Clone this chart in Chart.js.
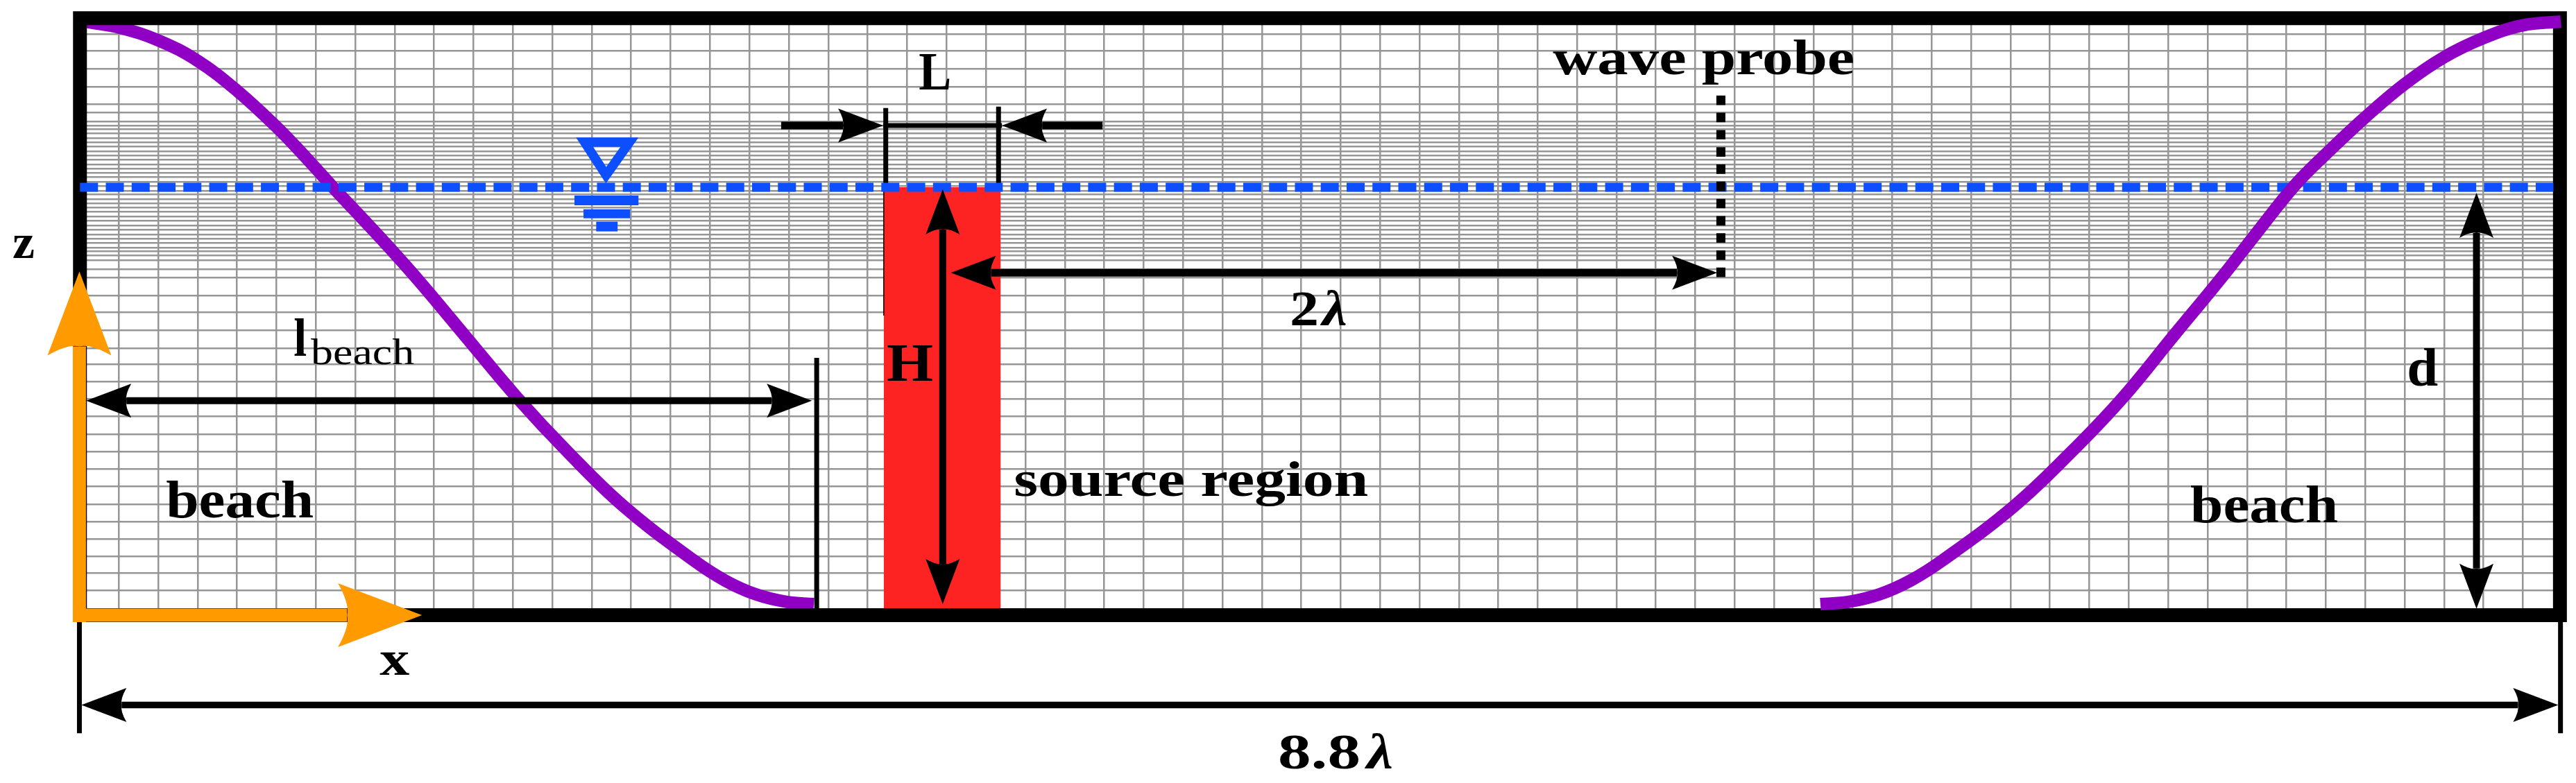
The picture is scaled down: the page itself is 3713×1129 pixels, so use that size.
<!DOCTYPE html>
<html>
<head>
    <title>Wave tank sketch</title>
    <script src="https://cdn.jsdelivr.net/npm/chart.js"></script>
    <style>
        body { margin: 0; background-color: white; }
        canvas { display: block; }
    </style>
</head>
<body>
    <canvas id="tankChart" width="3713" height="1129"></canvas>

    <script>
        // x is in wavelengths from the left wall, z is relative to the water depth d
        const meshX = [0.140, 0.280, 0.420, 0.559, 0.699, 0.839, 0.979, 1.119, 1.258, 1.398, 1.538, 1.678, 1.817, 1.957, 2.097, 2.237, 2.377, 2.516, 2.656, 2.796, 2.936, 3.075, 3.215, 3.355, 3.495, 3.635, 3.774, 3.914, 4.054, 4.194, 4.333, 4.473, 4.613, 4.753, 4.893, 5.032, 5.172, 5.312, 5.452, 5.591, 5.731, 5.871, 6.011, 6.151, 6.290, 6.430, 6.570, 6.710, 6.849, 6.989, 7.129, 7.269, 7.409, 7.548, 7.688, 7.828, 7.968, 8.107, 8.247, 8.387, 8.527, 8.667];
        const meshZ = [1.358, 1.318, 1.277, 1.235, 1.194, 1.174, 1.154, 1.144, 1.135, 1.125, 1.115, 1.105, 1.095, 1.084, 1.074, 1.064, 1.053, 1.043, 1.033, 1.023, 1.013, 1.003, 0.992, 0.983, 0.972, 0.962, 0.952, 0.942, 0.931, 0.921, 0.911, 0.901, 0.890, 0.880, 0.870, 0.859, 0.850, 0.840, 0.829, 0.809, 0.788, 0.747, 0.707, 0.666, 0.624, 0.586, 0.546, 0.505, 0.464, 0.423, 0.382, 0.342, 0.301, 0.259, 0.219, 0.178, 0.138, 0.099, 0.058];

        const beachLeftX = [0.026, 0.141, 0.280, 0.420, 0.560, 0.702, 0.801, 0.895, 1.060, 1.195, 1.375, 1.554, 1.737, 1.933, 2.179, 2.290, 2.398, 2.509, 2.605];
        const beachLeftZ = [1.386, 1.373, 1.343, 1.295, 1.225, 1.139, 1.071, 1.003, 0.887, 0.788, 0.647, 0.507, 0.378, 0.253, 0.128, 0.081, 0.049, 0.031, 0.026];
        const beachRightX = [6.175, 6.274, 6.386, 6.495, 6.608, 6.859, 7.060, 7.246, 7.428, 7.598, 7.728, 7.856, 7.964, 8.105, 8.245, 8.385, 8.525, 8.665, 8.801];
        const beachRightZ = [0.026, 0.031, 0.049, 0.081, 0.128, 0.253, 0.378, 0.507, 0.653, 0.789, 0.898, 1.003, 1.075, 1.162, 1.240, 1.303, 1.348, 1.378, 1.387];

        const wallX = [4.400, 8.798, 8.798, 0.002, 0.002, 4.400];
        const wallZ = [1.395, 1.395, 0.000, 0.000, 1.395, 1.395];

        const sourceX = [2.853, 3.268];
        const sourceZ = [1.000, 1.000];

        const waterX = [0.002, 8.775];
        const waterZ = [1.000, 1.000];
        const probeX = [5.822, 5.822];
        const probeZ = [1.214, 0.789];

        const symbolTriangleX = [1.872, 1.951, 1.868, 1.792, 1.872];
        const symbolTriangleZ = [1.105, 1.105, 1.028, 1.105, 1.105];
        const symbolBarsX = [[1.756, 1.983], [1.788, 1.953], [1.833, 1.909]];
        const symbolBarsZ = [[0.969, 0.969], [0.938, 0.938], [0.908, 0.908]];

        const labelTexts = ['L', 'wave probe', 'z', 'x', 'beach', 'beach', 'source region', 'H', 'd', '2', 'λ', '8.8', 'λ', 'l', 'beach'];
        const labelX = [2.977, 5.226, -0.237, 1.065, 0.307, 7.487, 3.314, 2.863, 8.255, 4.293, 4.408, 4.251, 4.566, 0.760, 0.821];
        const labelZ = [1.229, 1.264, 0.835, -0.139, 0.229, 0.217, 0.279, 0.548, 0.536, 0.677, 0.677, -0.358, -0.358, 0.606, 0.587];

        // font and stretched width of each label, computer modern is much wider than Liberation
        const labelFonts = ['bold 78px', 'bold 72px', 'bold 70px', 'bold 70px', 'bold 76px', 'bold 76px', 'bold 72px', 'bold 78px', 'bold 78px', 'bold 72px', 'italic bold 72px', 'bold 72px', 'italic bold 72px', 'bold 78px', '52px'];
        const labelWidths = [47, 435, 32, 43, 213, 213, 511, 67, 45, 42, 36, 119, 38, 19, 149];

        const BLACK = '#000000';
        const ORANGE = '#ff9a00';
        const BLUE = '#0d4fff';
        const PURPLE = '#8f00c4';
        const RED = '#fe2323';

        function line(xs, zs, color, width, extra) {
            return Object.assign({
                data: xs.map((x, i) => ({ x: x, y: zs[i] })),
                showLine: true,
                pointRadius: 0,
                borderColor: color,
                borderWidth: width,
                borderCapStyle: 'butt',
                borderJoinStyle: 'miter',
                clip: false
            }, extra);
        }

        const smallHead = { length: 65, half: 24.5, notch: 7 };
        const axisHead = { length: 121, half: 46, notch: 13 };

        // listed bottom to top
        const layers = [
            line(sourceX, sourceZ, RED, 0, { fill: 'start', backgroundColor: RED }),
            line([2.853, 2.853], [1.000, 0.700], BLACK, 1.5),
            line(beachLeftX, beachLeftZ, PURPLE, 18, { tension: 0.4 }),
            line([2.860, 2.860], [1.185, 1.000], BLACK, 7),
            line([3.260, 3.260], [1.188, 1.000], BLACK, 7),
            line([2.615, 2.615], [0.601, 0.000], BLACK, 7),
            line([0.000, 0.000], [-0.016, -0.276], BLACK, 7),
            line([8.800, 8.800], [-0.016, -0.276], BLACK, 7),
            line(wallX, wallZ, BLACK, 20),
            line(waterX, waterZ, BLUE, 13, { borderDash: [26, 11.26] }),
            line(symbolTriangleX, symbolTriangleZ, BLUE, 13.5),
            line(symbolBarsX[0], symbolBarsZ[0], BLUE, 14),
            line(symbolBarsX[1], symbolBarsZ[1], BLUE, 13),
            line(symbolBarsX[2], symbolBarsZ[2], BLUE, 14),
            line(probeX, probeZ, BLACK, 13, { borderDash: [13.7, 11.1] }),
            line([2.489, 2.851], [1.144, 1.144], BLACK, 11, { head: smallHead, heads: ['end'] }),
            line([2.851, 3.272], [1.144, 1.144], BLACK, 7),
            line([3.629, 3.272], [1.144, 1.144], BLACK, 11, { head: smallHead, heads: ['end'] }),
            line([3.062, 3.062], [0.995, 0.026], BLACK, 10, { head: smallHead, heads: ['start', 'end'] }),
            line([3.091, 5.809], [0.800, 0.800], BLACK, 11, { head: smallHead, heads: ['start', 'end'] }),
            line([0.024, 2.598], [0.501, 0.501], BLACK, 10, { head: smallHead, heads: ['start', 'end'] }),
            line([8.502, 8.502], [0.987, 0.015], BLACK, 10, { head: smallHead, heads: ['start', 'end'] }),
            line([0.007, 8.792], [-0.210, -0.210], BLACK, 9.5, { head: smallHead, heads: ['start', 'end'] }),
            line(beachRightX, beachRightZ, PURPLE, 18, { tension: 0.4 }),
            line([-0.023, 1.215], [0.000, 0.000], ORANGE, 19, { head: axisHead, heads: ['end'] }),
            line([0.000, 0.000], [-0.016, 0.803], ORANGE, 19, { head: axisHead, heads: ['end'] })
        ];

        // tip position and direction of an arrow, from the dataset's own end points
        function headPose(chart, dataset, which) {
            const from = dataset.data[which === 'end' ? 0 : dataset.data.length - 1];
            const to = dataset.data[which === 'end' ? dataset.data.length - 1 : 0];
            const sx = chart.scales.x, sy = chart.scales.y;
            const x0 = sx.getPixelForValue(from.x), y0 = sy.getPixelForValue(from.y);
            const x1 = sx.getPixelForValue(to.x), y1 = sy.getPixelForValue(to.y);
            return { x: x1, y: y1, angle: Math.atan2(y1 - y0, x1 - x0) };
        }

        const arrowHeads = {
            id: 'arrowHeads',
            // pull the shaft back so that it ends inside the head and not past the tip
            afterDatasetsUpdate(chart) {
                chart.data.datasets.forEach((dataset, i) => {
                    if (!dataset.heads) return;
                    const points = chart.getDatasetMeta(i).data;
                    dataset.heads.forEach(which => {
                        const pose = headPose(chart, dataset, which);
                        const point = which === 'end' ? points[points.length - 1] : points[0];
                        const pull = dataset.head.length - dataset.head.notch;
                        point.x = pose.x - Math.cos(pose.angle) * pull;
                        point.y = pose.y - Math.sin(pose.angle) * pull;
                    });
                });
            },
            afterDatasetDraw(chart, args) {
                const dataset = chart.data.datasets[args.index];
                if (!dataset.heads) return;
                const ctx = chart.ctx;
                const h = dataset.head;
                dataset.heads.forEach(which => {
                    const pose = headPose(chart, dataset, which);
                    ctx.save();
                    ctx.translate(pose.x, pose.y);
                    ctx.rotate(pose.angle);
                    ctx.fillStyle = dataset.borderColor;
                    ctx.beginPath();
                    ctx.moveTo(0, 0);
                    ctx.lineTo(-h.length, h.half);
                    ctx.quadraticCurveTo(-h.length + h.notch * 1.3, h.half * 0.35, -h.length + h.notch, 0);
                    ctx.quadraticCurveTo(-h.length + h.notch * 1.3, -h.half * 0.35, -h.length, -h.half);
                    ctx.closePath();
                    ctx.fill();
                    ctx.restore();
                });
            }
        };

        const sketchLabels = {
            id: 'sketchLabels',
            afterDatasetsDraw(chart) {
                const ctx = chart.ctx;
                labelTexts.forEach((text, i) => {
                    ctx.save();
                    ctx.font = labelFonts[i] + ' "Liberation Serif"';
                    ctx.fillStyle = BLACK;
                    ctx.textBaseline = 'alphabetic';
                    ctx.translate(chart.scales.x.getPixelForValue(labelX[i]), chart.scales.y.getPixelForValue(labelZ[i]));
                    ctx.scale(labelWidths[i] / ctx.measureText(text).width, 1);
                    ctx.fillText(text, 0, 0);
                    ctx.restore();
                });
            }
        };

        const meshGrid = { color: '#969696', lineWidth: 2.5, drawTicks: false };

        new Chart(document.getElementById('tankChart'), {
            type: 'scatter',
            data: { datasets: layers.map((d, i) => Object.assign(d, { order: layers.length - i })) },
            options: {
                responsive: false,
                animation: false,
                devicePixelRatio: 1,
                layout: { padding: { left: 125, right: 32.5, top: 36, bottom: 251 } },
                plugins: { legend: { display: false }, tooltip: { enabled: false } },
                scales: {
                    x: {
                        type: 'linear',
                        min: 0.026,
                        max: 8.775,
                        border: { display: false },
                        grid: meshGrid,
                        ticks: { display: false, autoSkip: false },
                        afterBuildTicks: scale => { scale.ticks = meshX.map(value => ({ value })); }
                    },
                    y: {
                        type: 'linear',
                        min: 0.0146,
                        max: 1.379,
                        border: { display: false },
                        grid: meshGrid,
                        ticks: { display: false, autoSkip: false },
                        afterBuildTicks: scale => { scale.ticks = meshZ.map(value => ({ value })); }
                    }
                }
            },
            plugins: [arrowHeads, sketchLabels]
        });
    </script>
</body>
</html>
